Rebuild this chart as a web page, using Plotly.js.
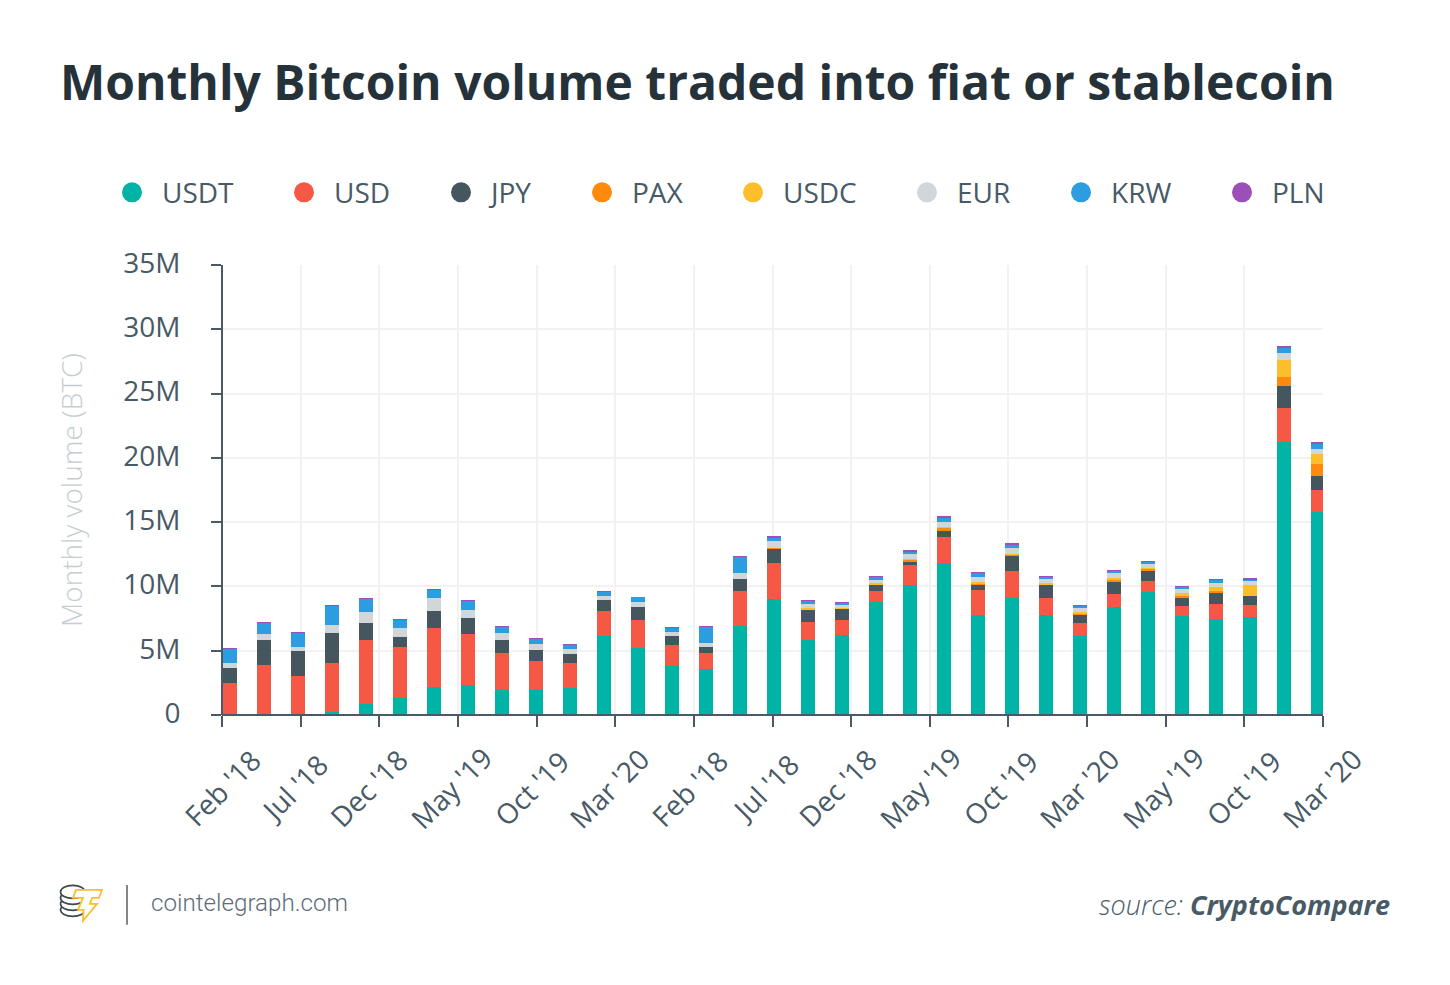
<!DOCTYPE html>
<html><head><meta charset="utf-8">
<script src="https://cdn.plot.ly/plotly-3.0.1.min.js"></script>
<style>html,body{margin:0;padding:0;background:#fff}#c{width:1450px;height:985px}</style>
</head><body><div id="c"></div>
<script>
const seriesNames = ['USDT','USD','JPY','PAX','USDC','EUR','KRW','PLN'];
const seriesColors = ['#00b3a7','#f55845','#45565f','#ff8a0d','#fcbf2b','#d1d6d8','#2c9de0','#9b4fb8'];
const USDT = [0,0.05,0.1,0.23,0.85,1.32,2.15,2.33,1.97,1.97,2.12,6.17,5.23,3.83,3.55,6.92,8.99,5.85,6.19,8.81,10.1,11.81,7.75,9.12,7.8,6.17,8.37,9.59,7.69,7.49,7.59,21.2,15.81];
const USD  = [2.49,3.86,2.93,3.81,4.98,3.96,4.64,3.97,2.87,2.23,1.92,1.91,2.15,1.61,1.29,2.74,2.8,1.4,1.19,0.85,1.56,2.05,1.97,2.05,1.27,0.98,1.06,0.82,0.76,1.11,0.93,2.65,1.69];
const JPY  = [1.17,1.89,1.97,2.33,1.35,0.76,1.29,1.24,1.01,0.85,0.7,0.83,1.04,0.73,0.44,0.88,1.14,0.91,0.86,0.44,0.26,0.44,0.41,1.19,1.03,0.62,0.91,0.78,0.67,0.91,0.73,1.75,1.1];
const PAX  = [0,0,0,0,0,0,0,0,0,0,0,0,0,0,0,0,0.03,0.04,0.03,0.04,0.1,0.26,0.05,0.12,0.03,0.12,0.15,0.13,0.13,0.1,0.03,0.68,0.9];
const USDC = [0,0,0,0,0,0,0,0,0,0,0,0,0,0,0,0,0.05,0.12,0.07,0.12,0.1,0.05,0.16,0.03,0.1,0.13,0.18,0.1,0.26,0.31,0.82,1.32,0.77];
const EUR  = [0.41,0.52,0.31,0.6,0.85,0.7,0.99,0.65,0.52,0.44,0.36,0.34,0.39,0.31,0.29,0.52,0.52,0.28,0.21,0.26,0.37,0.44,0.41,0.46,0.34,0.31,0.37,0.32,0.26,0.36,0.31,0.57,0.44];
const KRW  = [1.06,0.86,1.06,1.5,1.01,0.64,0.65,0.7,0.5,0.42,0.34,0.31,0.34,0.31,1.3,1.25,0.25,0.23,0.18,0.18,0.2,0.26,0.26,0.24,0.18,0.15,0.18,0.15,0.15,0.21,0.1,0.39,0.39];
const PLN  = [0.07,0.07,0.08,0.08,0.08,0.08,0.07,0.07,0.05,0.07,0.05,0.08,0.05,0.05,0.07,0.07,0.13,0.11,0.08,0.1,0.13,0.13,0.1,0.13,0.1,0.11,0.05,0.08,0.11,0.11,0.11,0.13,0.13];
const seriesValues = [USDT,USD,JPY,PAX,USDC,EUR,KRW,PLN];
const tickLabels = ["Feb '18","Jul '18","Dec '18","May '19","Oct '19","Mar '20","Feb '18","Jul '18","Dec '18","May '19","Oct '19","Mar '20","May '19","Oct '19","Mar '20"];
const yTicks = [0,5,10,15,20,25,30,35];
const yTickLabels = ['0','5M','10M','15M','20M','25M','30M','35M'];
const legendDotX = [132,304,461,602,753,927,1081,1242];
const legendTextX = [160,332,486,630,781,955,1109,1270];
const tickLabelNudge = [0,-7,-11,-7,-5,-6,-4,-8,-14,-10,-8,-8,-3,-1,-1];

const L=222,R=1323,T=264.7,B=715;
const px=x=>(x-L)/(R-L), py=y=>(B-y)/(B-T);
const barPos = USDT.map((_,i)=>i+0.226);
const xRange=[0,32.38];
const xTickVals = tickLabels.map((_,i)=>xRange[0]+i*(xRange[1]-xRange[0])/(tickLabels.length-1));

const traces = seriesNames.map((n,i)=>({type:'bar',name:n,x:barPos,y:seriesValues[i],width:0.41,
  marker:{color:seriesColors[i],line:{width:0}},showlegend:false,hoverinfo:'name+y'}));

const textColor='#475a66';
const ann=(x,y,text,size,extra)=>Object.assign({xref:'paper',yref:'paper',x:px(x),y:py(y),text,showarrow:false,xanchor:'left',yanchor:'middle',
  font:{family:'Open Sans',size,color:textColor}},extra||{});
const annotations=[
  ann(58,81,'<b>Monthly Bitcoin volume traded into fiat or stablecoin</b>',48,{font:{family:'Open Sans',size:48,color:'#26323a'}}),
  ...seriesNames.map((n,i)=>ann(legendTextX[i],192,n,28)),
  ann(149,903.5,'cointelegraph.com',24.2,{font:{family:'Roboto',size:24.2,color:'#5d6d79',weight:300}}),
  ann(1392,905,'<i>source: </i><b><i>CryptoCompare</i></b>',27,{xanchor:'right',font:{family:'Open Sans',size:27,color:textColor,weight:300}}),
  ...tickLabels.map((t,i)=>({xref:'x',yref:'paper',x:xTickVals[i],y:py(788),xshift:tickLabelNudge[i],text:t,textangle:-45,showarrow:false,xanchor:'center',yanchor:'middle',
    font:{family:'Open Sans',size:28,color:textColor}}))
];
const dot=(x,y,r,c)=>({type:'circle',xref:'paper',yref:'paper',x0:px(x-r),x1:px(x+r),y0:py(y+r),y1:py(y-r),fillcolor:c,line:{width:0},layer:'above'});
const pathOf=(pts,close)=>pts.map((p,i)=>(i?'L':'M')+px(p[0]).toFixed(5)+','+py(p[1]).toFixed(5)).join(' ')+(close?' Z':'');
const logoInk='#3b4850';
const coin=(cy)=>({type:'circle',xref:'paper',yref:'paper',x0:px(60.5),x1:px(85),y0:py(cy+6.5),y1:py(cy-6.5),fillcolor:'#fff',line:{color:logoInk,width:1.6}});
const bolt=[[76,890],[102,890],[99,898],[92,898],[90,904],[97,904],[83,921],[83.5,910],[78,910],[83,898],[73,898]];
const shapes=[
  ...seriesColors.map((c,i)=>dot(legendDotX[i],192,10,c)),
  coin(910),coin(904),coin(898),coin(892),
  {type:'path',xref:'paper',yref:'paper',path:pathOf(bolt,true),fillcolor:'#fff',line:{color:'#fcbf2b',width:1.8}},
  {type:'line',xref:'paper',yref:'paper',x0:px(127),x1:px(127),y0:py(885),y1:py(925),line:{color:'#858585',width:2}}
];

const layout={width:1450,height:985,autosize:false,paper_bgcolor:'#fff',plot_bgcolor:'#fff',barmode:'stack',showlegend:false,
  margin:{l:L,r:1450-R,t:T,b:985-B,pad:0},
  font:{family:'Open Sans',color:textColor},
  xaxis:{range:xRange,tickmode:'array',tickvals:xTickVals,ticktext:tickLabels,showticklabels:false,ticks:'outside',ticklen:11,tickwidth:2,tickcolor:textColor,
    showline:false,showgrid:true,gridcolor:'#f2f2f2',gridwidth:2,zeroline:true,zerolinecolor:textColor,zerolinewidth:2,zerolinelayer:'above traces'},
  yaxis:{range:[0,35],tickmode:'array',tickvals:yTicks,ticktext:yTickLabels,ticks:'outside',ticklen:10,tickwidth:2,tickcolor:textColor,
    showline:false,showgrid:true,gridcolor:'#f2f2f2',gridwidth:2,zeroline:true,zerolinecolor:textColor,zerolinewidth:2,zerolinelayer:'above traces',ticklabelstandoff:25,ticklabelshift:-2,
    tickfont:{family:'Open Sans',size:28,color:textColor},
    title:{text:'Monthly volume (BTC)',standoff:32,font:{family:'Open Sans',size:28,color:'#c5cdd1',weight:300}}},
  annotations,shapes
};
Plotly.newPlot('c',traces,layout,{displayModeBar:false,staticPlot:true});
</script></body></html>
